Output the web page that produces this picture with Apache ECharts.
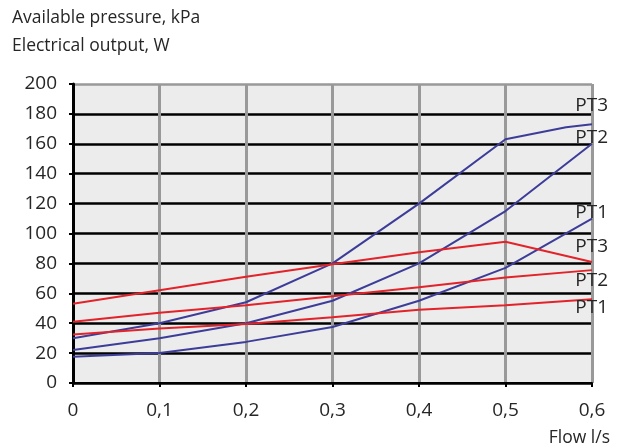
<!DOCTYPE html>
<html><head><meta charset="utf-8">
<script src="https://cdn.jsdelivr.net/npm/echarts@6/dist/echarts.min.js"></script>
<style>html,body{margin:0;padding:0;background:#fff}#c{width:618px;height:448px}</style>
</head><body><div id="c"></div>
<script>
const flow = [0, 0.1, 0.2, 0.3, 0.4, 0.5, 0.6];
const flowPT3Pressure = [0, 0.1, 0.2, 0.3, 0.4, 0.5, 0.57, 0.6];
const pressurePT3 = [30, 40, 54, 80, 120, 163, 171, 173];
const pressurePT2 = [22, 30, 40, 55, 80, 115, 160];
const pressurePT1 = [17.5, 20, 27.5, 37.5, 55, 77, 110];
const powerPT3 = [53, 62, 71, 79.5, 87.5, 94.5, 81];
const powerPT2 = [41, 47, 52, 58, 64, 70.5, 75.5];
const powerPT1 = [32.5, 36.5, 39.5, 44, 49, 52, 56];
const xTickLabels = ['0', '0,1', '0,2', '0,3', '0,4', '0,5', '0,6'];
const yTicks = [0, 20, 40, 60, 80, 100, 120, 140, 160, 180, 200];
const seriesNames = ['PT3', 'PT2', 'PT1'];

const FONT = 'Open Sans';
const TXT = '#262626';
const BLUE = '#3d3d99';
const RED = '#e3232a';

function pairs(xs, ys) { return ys.map((y, i) => [xs[i], y]); }
function line(name, data, color) {
  return { name, type: 'line', data, symbol: 'none', smooth: false,
    lineStyle: { color, width: 2 }, z: 3 };
}
function txt(opts, text, size) {
  return Object.assign({ type: 'text', z: 100, style: { text, fill: TXT, font: size + 'px "' + FONT + '"' } }, opts);
}
const chart = echarts.init(document.getElementById('c'), null, { renderer: 'canvas' });
const splitColors = yTicks.map((v, i) => i === yTicks.length - 1 ? '#999999' : '#000000');
chart.setOption({
  animation: false,
  backgroundColor: '#ffffff',
  grid: { left: 73, right: 26, top: 84, bottom: 65, show: true, backgroundColor: '#ececec', borderWidth: 0 },
  xAxis: {
    type: 'value', min: 0, max: 0.6, interval: 0.1,
    axisLine: { show: true, onZero: false, lineStyle: { color: '#000', width: 2 } },
    axisTick: { show: true, length: 4, lineStyle: { color: '#000', width: 2 } },
    axisLabel: { color: TXT, fontFamily: FONT, fontSize: 19, margin: 18,
      formatter: v => xTickLabels[Math.round(v * 10)] },
    splitLine: { show: true, lineStyle: { color: '#999999', width: 3 } }
  },
  yAxis: {
    type: 'value', min: 0, max: 200, interval: 20,
    axisLine: { show: true, lineStyle: { color: '#000', width: 3 } },
    axisTick: { show: true, length: 4, lineStyle: { color: '#000', width: 2 } },
    axisLabel: { color: TXT, fontFamily: FONT, fontSize: 19, margin: 16 },
    splitLine: { show: true, lineStyle: { color: splitColors, width: 2.5 } }
  },
  series: [
    line('p3', pairs(flowPT3Pressure, pressurePT3), BLUE),
    line('p2', pairs(flow, pressurePT2), BLUE),
    line('p1', pairs(flow, pressurePT1), BLUE),
    line('e3', pairs(flow, powerPT3), RED),
    line('e2', pairs(flow, powerPT2), RED),
    line('e1', pairs(flow, powerPT1), RED)
  ],
  graphic: [
    txt({ left: 12, top: 9 }, 'Available pressure, kPa', 17.5),
    txt({ left: 12, top: 37 }, 'Electrical output, W', 17.5),
    txt({ right: 8, top: 429 }, 'Flow l/s', 17.5),
    txt({ right: 10, top: 96 }, seriesNames[0], 19),
    txt({ right: 10, top: 128 }, seriesNames[1], 19),
    txt({ right: 10, top: 203 }, seriesNames[2], 19),
    txt({ right: 10, top: 237 }, seriesNames[0], 19),
    txt({ right: 10, top: 271 }, seriesNames[1], 19),
    txt({ right: 10, top: 298 }, seriesNames[2], 19)
  ]
});
</script></body></html>
